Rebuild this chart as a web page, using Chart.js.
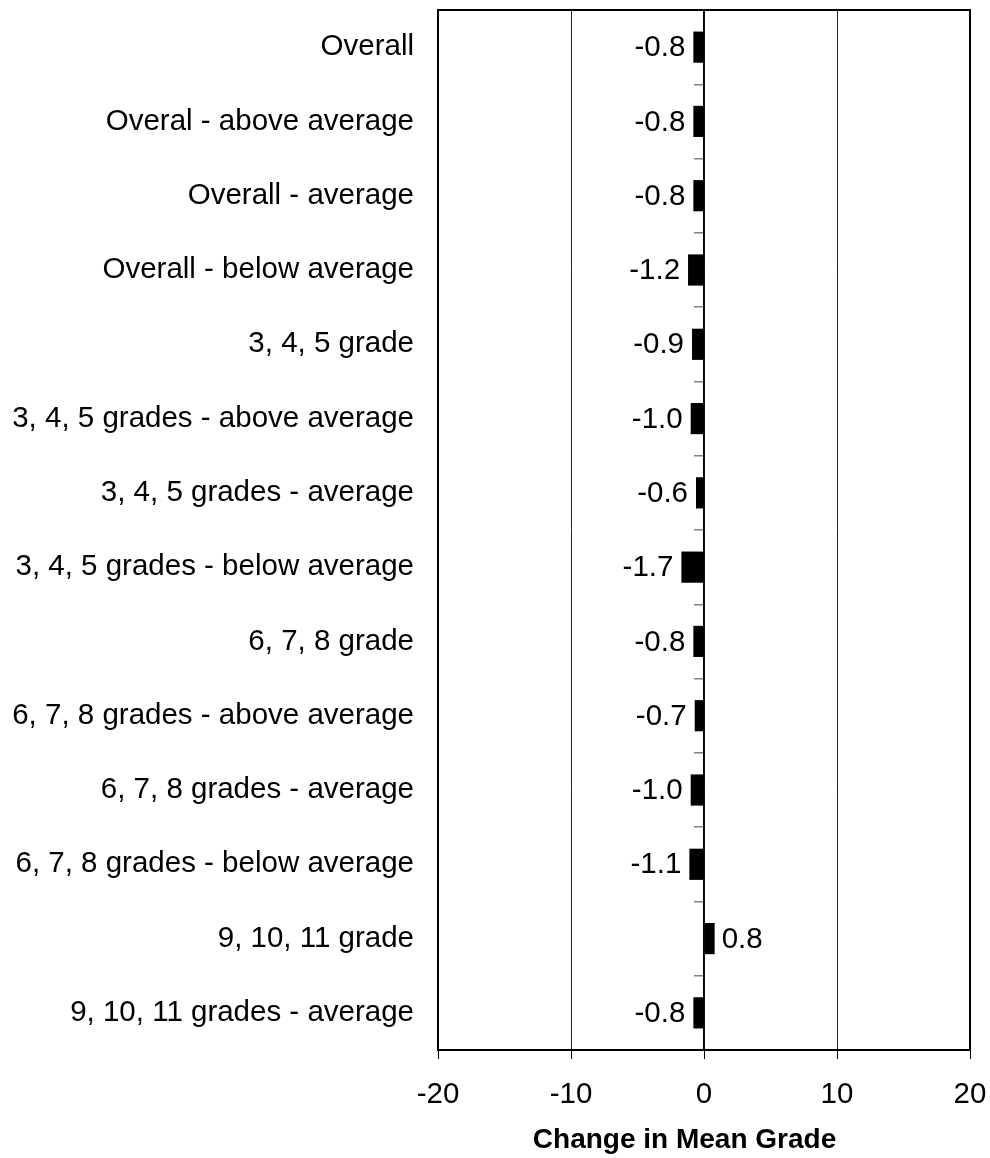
<!DOCTYPE html>
<html lang="en">
<head>
    <meta charset="UTF-8">
    <title>Change in Mean Grade</title>
    <script src="https://cdn.jsdelivr.net/npm/chart.js"></script>
    <style>
        html, body { margin: 0; padding: 0; background: #fff; }
        #wrap { width: 990px; height: 1158px; }
    </style>
</head>
<body>
    <div id="wrap"><canvas id="chart" width="990" height="1158"></canvas></div>
    <script>
        // categories and values
        var categories = [
            'Overall',
            'Overal - above average',
            'Overall - average',
            'Overall - below average',
            '3, 4, 5 grade',
            '3, 4, 5 grades - above average',
            '3, 4, 5 grades - average',
            '3, 4, 5 grades - below average',
            '6, 7, 8 grade',
            '6, 7, 8 grades - above average',
            '6, 7, 8 grades - average',
            '6, 7, 8 grades - below average',
            '9, 10, 11 grade',
            '9, 10, 11 grades - average'
        ];
        var changeValues = [-0.8, -0.8, -0.8, -1.2, -0.9, -1.0, -0.6, -1.7, -0.8, -0.7, -1.0, -1.1, 0.8, -0.8];
        var xTicks = [-20, -10, 0, 10, 20];

        var FONT = "Arial, 'Liberation Sans', sans-serif";

        // no extra padding from the tick labels, the box is set by layout.padding
        function noPad(scale) {
            scale.paddingLeft = 0;
            scale.paddingRight = 0;
            scale.paddingTop = 0;
            scale.paddingBottom = 0;
        }

        // value text next to each bar
        var valueLabels = {
            id: 'valueLabels',
            afterDatasetsDraw: function (chart) {
                var ctx = chart.ctx;
                var meta = chart.getDatasetMeta(0);
                ctx.save();
                ctx.font = '29.5px ' + FONT;
                ctx.fillStyle = '#000';
                ctx.textBaseline = 'middle';
                meta.data.forEach(function (bar, i) {
                    var v = changeValues[i];
                    if (v < 0) {
                        ctx.textAlign = 'right';
                        ctx.fillText(v.toFixed(1), Math.min(bar.x, bar.base) - 8, bar.y + 1);
                    } else {
                        ctx.textAlign = 'left';
                        ctx.fillText(v.toFixed(1), Math.max(bar.x, bar.base) + 7, bar.y + 1);
                    }
                });
                ctx.restore();
            }
        };

        // frame round the plot area (top and right sides)
        var frame = {
            id: 'frame',
            afterDraw: function (chart) {
                var a = chart.chartArea;
                var ctx = chart.ctx;
                ctx.save();
                ctx.strokeStyle = '#000';
                ctx.lineWidth = 2;
                ctx.strokeRect(a.left, a.top, a.right - a.left, a.bottom - a.top);
                ctx.restore();
            }
        };

        var ctx = document.getElementById('chart').getContext('2d');
        new Chart(ctx, {
            type: 'bar',
            data: {
                labels: categories,
                datasets: [{
                    data: changeValues,
                    backgroundColor: '#000',
                    borderWidth: 0,
                    categoryPercentage: 1,
                    barPercentage: 0.42
                }]
            },
            options: {
                indexAxis: 'y',
                responsive: false,
                animation: false,
                layout: { padding: { top: 10, right: 20, left: 0, bottom: 0 } },
                plugins: {
                    legend: { display: false },
                    tooltip: { enabled: false }
                },
                scales: {
                    x: {
                        type: 'linear',
                        min: -20,
                        max: 20,
                        afterBuildTicks: function (scale) {
                            scale.ticks = xTicks.map(function (v) { return { value: v }; });
                        },
                        afterFit: function (scale) { scale.height = 108; noPad(scale); },
                        grid: { color: '#222', lineWidth: 1, tickLength: 9, tickColor: '#000' },
                        border: { display: true, color: '#000', width: 2 },
                        ticks: { color: '#000', font: { family: FONT, size: 29.5 }, padding: 18 },
                        title: {
                            display: true,
                            text: 'Change in Mean Grade\u00A0\u00A0\u00A0\u00A0\u00A0',
                            color: '#000',
                            font: { family: FONT, size: 28, weight: 'bold' },
                            padding: { top: 0, bottom: 1 }
                        }
                    },
                    y: {
                        type: 'category',
                        offset: true,
                        afterFit: function (scale) { scale.width = 438; noPad(scale); },
                        grid: { display: false, drawTicks: false },
                        border: { display: true, color: '#000', width: 2 },
                        ticks: { color: '#000', font: { family: FONT, size: 29.5 }, padding: 24 }
                    },
                    yZero: {
                        type: 'category',
                        axis: 'y',
                        labels: categories,
                        offset: true,
                        position: { x: 0 },
                        afterFit: function (scale) { scale.width = 0; noPad(scale); },
                        grid: { offset: true, drawOnChartArea: false, tickLength: 9, color: '#808080', lineWidth: 1.5 },
                        border: { display: true, color: '#000', width: 1.5 },
                        ticks: { display: false }
                    }
                }
            },
            plugins: [valueLabels, frame]
        });
    </script>
</body>
</html>
